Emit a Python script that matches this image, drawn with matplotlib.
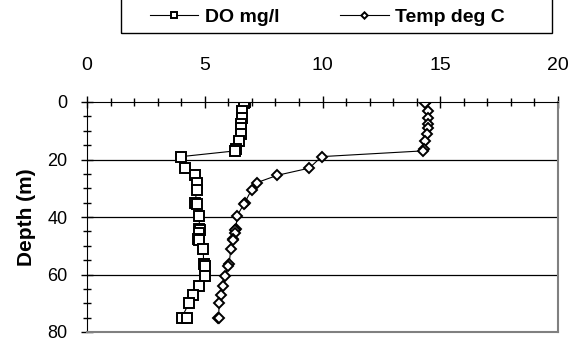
import matplotlib
matplotlib.use('Agg')
import matplotlib.pyplot as plt
from matplotlib.patches import Rectangle
from matplotlib.ticker import MultipleLocator

plt.rcParams['font.family'] = ['Liberation Sans', 'DejaVu Sans']

# profile data (depth in m)
depth = [0, 0.5, 3, 5.5, 7.5, 9, 11, 13.5, 16.5, 17, 19, 23, 25.5, 28, 30.5,
         35, 35.5, 39.5, 44, 44.5, 45.5, 47.5, 48, 51, 56.5, 57, 60.5, 64, 67,
         70, 75, 75]
do_mgl = [6.7, 6.65, 6.6, 6.57, 6.55, 6.55, 6.52, 6.46, 6.33, 6.3, 4.0, 4.17,
          4.59, 4.65, 4.65, 4.6, 4.65, 4.77, 4.77, 4.8, 4.75, 4.72, 4.75, 4.94,
          4.95, 5.0, 5.02, 4.77, 4.51, 4.33, 4.02, 4.26]
temp_c = [14.38, 14.35, 14.48, 14.48, 14.48, 14.48, 14.45, 14.35, 14.3, 14.27,
          9.96, 9.44, 8.08, 7.23, 6.99, 6.7, 6.66, 6.38, 6.32, 6.28, 6.3, 6.22,
          6.2, 6.11, 6.03, 5.99, 5.87, 5.79, 5.7, 5.62, 5.58, 5.6]
series_names = ['DO mg/l', 'Temp deg C']

fig = plt.figure(figsize=(5.75, 3.39), dpi=100)
ax = fig.add_axes([87 / 575, 1 - 332 / 339, 471 / 575, 230 / 339])

ax.plot(do_mgl, depth, color='black', lw=0.8, marker='s', ms=6.5,
        mfc='white', mec='black', mew=1.4, label=series_names[0])
ax.plot(temp_c, depth, color='black', lw=0.8, marker='D', ms=5,
        mfc='white', mec='black', mew=1.4, label=series_names[1])

ax.set_xlim(0, 20)
ax.set_ylim(80, 0)
ax.xaxis.set_major_locator(MultipleLocator(5))
ax.xaxis.set_minor_locator(MultipleLocator(1))
ax.yaxis.set_major_locator(MultipleLocator(20))
ax.yaxis.set_minor_locator(MultipleLocator(5))
ax.xaxis.tick_top()
ax.tick_params(axis='both', which='major', direction='inout', length=8,
               width=1, color='black')
ax.tick_params(axis='both', which='minor', direction='inout', length=6,
               width=1, color='black')
ax.tick_params(axis='x', which='major', pad=16, labelsize=14)
ax.tick_params(axis='y', which='major', pad=10, labelsize=13)

for y in [20, 40, 60]:
    ax.axhline(y, color='black', lw=0.9, zorder=0)

ax.spines['left'].set_color('black')
ax.spines['top'].set_color('black')
ax.spines['right'].set_color('#808080')
ax.spines['bottom'].set_color('#808080')
ax.spines['right'].set_linewidth(1.5)
ax.spines['bottom'].set_linewidth(1.5)

ax.set_ylabel('Depth (m)', fontsize=15, fontweight='bold', labelpad=8)

# legend box sitting at the top edge
fig.patches.append(Rectangle((121 / 575, 1 - 33 / 339), (552 - 121) / 575, 0.2,
                             transform=fig.transFigure, fill=False,
                             edgecolor='black', lw=1))
handles, labels = ax.get_legend_handles_labels()
leg = fig.legend(handles, labels, ncol=2, loc='center left',
                 bbox_to_anchor=(142 / 575, 1 - 17 / 339), frameon=False,
                 handlelength=2.5, handletextpad=0.35, columnspacing=3.1,
                 markerscale=0.65, borderaxespad=0,
                 prop={'size': 14, 'weight': 'bold'})

fig.savefig('out.png', dpi=100)
